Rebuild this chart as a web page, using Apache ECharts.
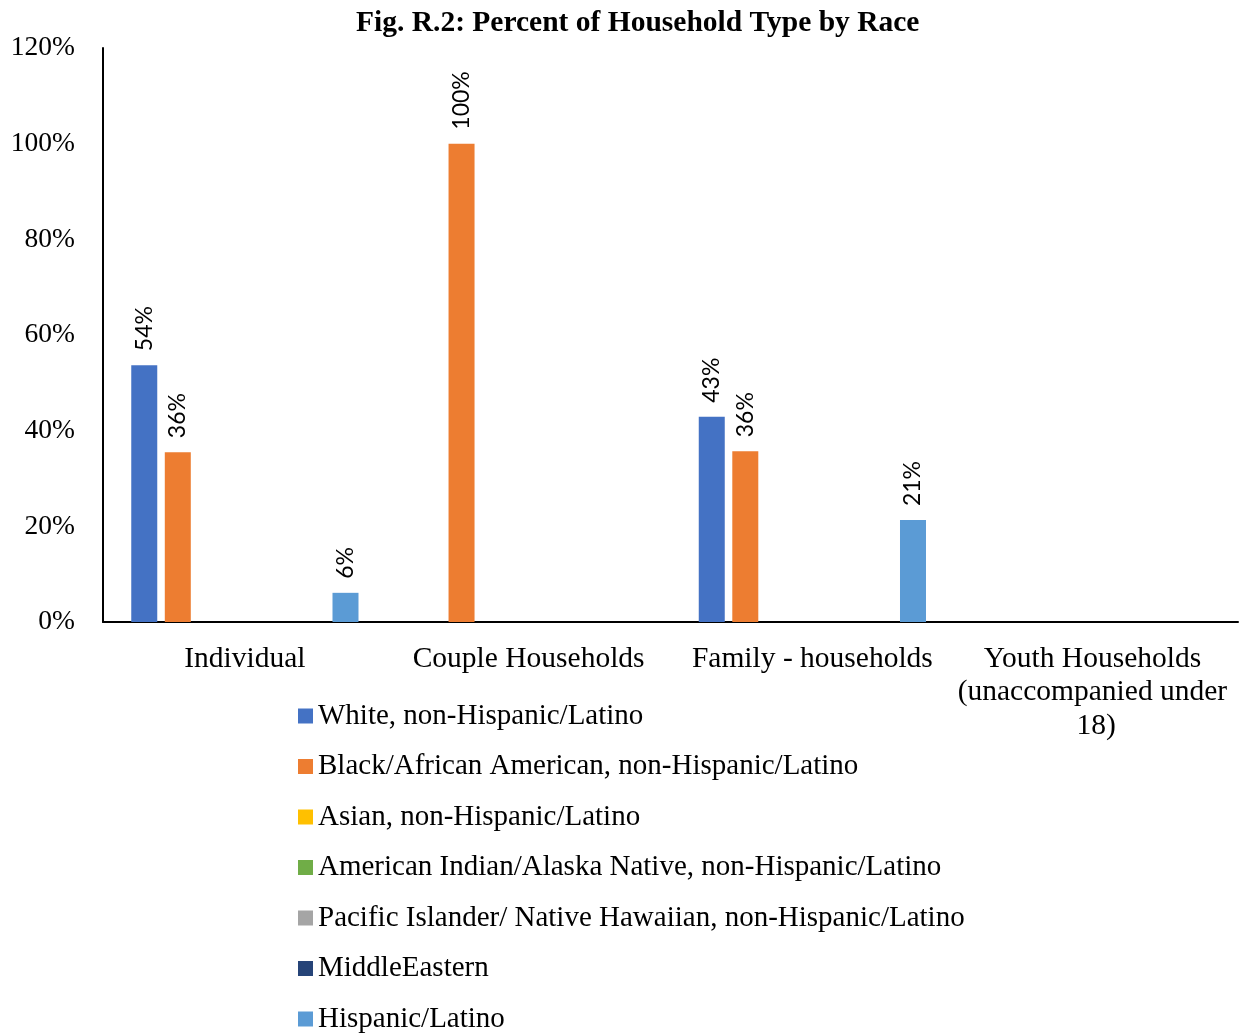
<!DOCTYPE html>
<html><head><meta charset="utf-8">
<script src="https://cdn.jsdelivr.net/npm/echarts@6/dist/echarts.min.js"></script>
<style>html,body{margin:0;padding:0;background:#fff}#c{width:1243px;height:1034px}</style>
</head><body><div id="c"></div>
<script>
const title = 'Fig. R.2: Percent of Household Type by Race';
const categories = ['Individual', 'Couple Households', 'Family - households', 'Youth Households (unaccompanied under 18)'];
const seriesNames = ['White, non-Hispanic/Latino', 'Black/African American, non-Hispanic/Latino', 'Asian, non-Hispanic/Latino', 'American Indian/Alaska Native, non-Hispanic/Latino', 'Pacific Islander/ Native Hawaiian, non-Hispanic/Latino', 'MiddleEastern', 'Hispanic/Latino'];
const white = [53.7, null, 42.9, null];
const black = [35.5, 100, 35.7, null];
const asian = [null, null, null, null];
const aian = [null, null, null, null];
const pacific = [null, null, null, null];
const middleEastern = [null, null, null, null];
const hispanic = [6.1, null, 21.3, null];
const yTicks = [0, 20, 40, 60, 80, 100, 120];
const colors = ['#4472C4', '#ED7D31', '#FFC000', '#70AD47', '#A5A5A5', '#264478', '#5B9BD5'];

const allData = [white, black, asian, aian, pacific, middleEastern, hispanic];
const serif = '"Liberation Serif", "Times New Roman", serif';
const chart = echarts.init(document.getElementById('c'));
chart.setOption({
  animation: false,
  color: colors,
  title: { text: title, left: 351, top: 3, textStyle: { fontFamily: serif, fontWeight: 'bold', fontSize: 29.5, color: '#000' } },
  grid: { left: 103, right: 5, top: 48, bottom: 412, containLabel: false },
  legend: {
    orient: 'vertical', left: 293, top: 696, height: 400, itemWidth: 15, itemHeight: 15, itemGap: 20.5,
    icon: 'rect', data: seriesNames,
    textStyle: { fontFamily: serif, fontSize: 29, color: '#000', lineHeight: 30 },
    selectedMode: false
  },
  xAxis: {
    type: 'category', data: categories,
    axisLine: { lineStyle: { color: '#000', width: 2 } },
    axisTick: { show: false },
    axisLabel: { fontFamily: serif, fontSize: 29.5, color: '#000', margin: 20, width: 280, overflow: 'break', lineHeight: 33.5, interval: 0 }
  },
  yAxis: {
    type: 'value', min: 0, max: 120, interval: 20,
    axisLine: { show: true, lineStyle: { color: '#000', width: 2 } },
    axisTick: { show: false },
    splitLine: { show: false },
    axisLabel: { fontFamily: serif, fontSize: 27.5, color: '#000', margin: 28, formatter: v => v + '%' }
  },
  series: seriesNames.map((n, i) => ({
    name: n, type: 'bar', data: allData[i], barWidth: 26, barGap: '29%',
    label: {
      show: true, position: 'top', rotate: 90, align: 'left', verticalAlign: 'middle', distance: 14,
      fontFamily: 'Lato, "Open Sans", sans-serif', fontSize: 23, color: '#000',
      formatter: p => p.value == null ? '' : Math.round(p.value) + '%'
    }
  }))
});
</script></body></html>
